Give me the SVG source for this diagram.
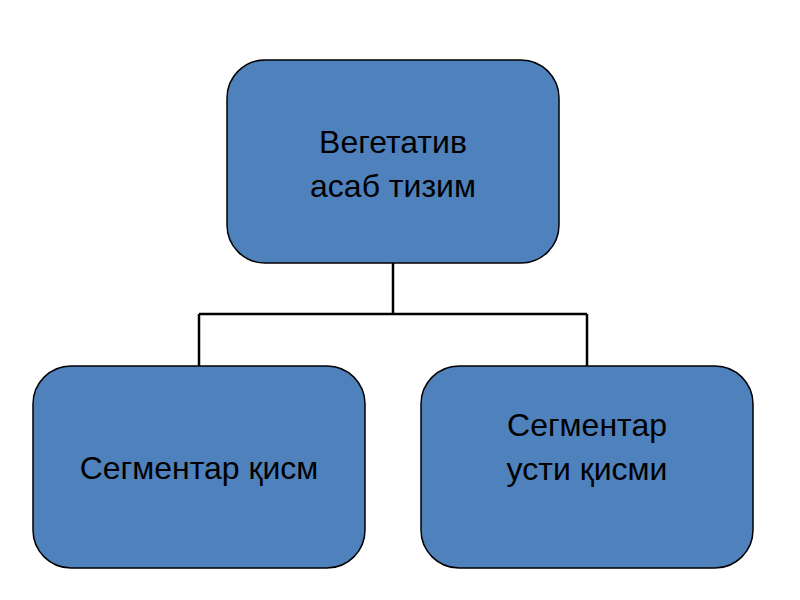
<svg xmlns="http://www.w3.org/2000/svg" width="800" height="600" viewBox="0 0 800 600">
<style>
.n{fill:#4f81bd;stroke:#000;stroke-width:1.5}
.t{font-family:"Liberation Sans",Arial,sans-serif;font-size:32px;fill:#000;text-anchor:middle}
.c{fill:none;stroke:#000;stroke-width:2.5}
</style>
<rect width="800" height="600" fill="#fff"/>
<g id="connectors">
<path class="c" d="M393 263V314M199 314H587M199 314V366M587 314V366"/>
</g>
<g id="root">
<rect class="n" x="227" y="60" width="332" height="203" rx="38"/>
<text class="t" x="393" y="153">Вегетатив</text>
<text class="t" x="393" y="197">асаб тизим</text>
</g>
<g id="left">
<rect class="n" x="33" y="366" width="332" height="202" rx="38"/>
<text class="t" x="199" y="479">Сегментар қисм</text>
</g>
<g id="right">
<rect class="n" x="421" y="366" width="332" height="202" rx="38"/>
<text class="t" x="587" y="436">Сегментар</text>
<text class="t" x="587" y="480">усти қисми</text>
</g>
</svg>
